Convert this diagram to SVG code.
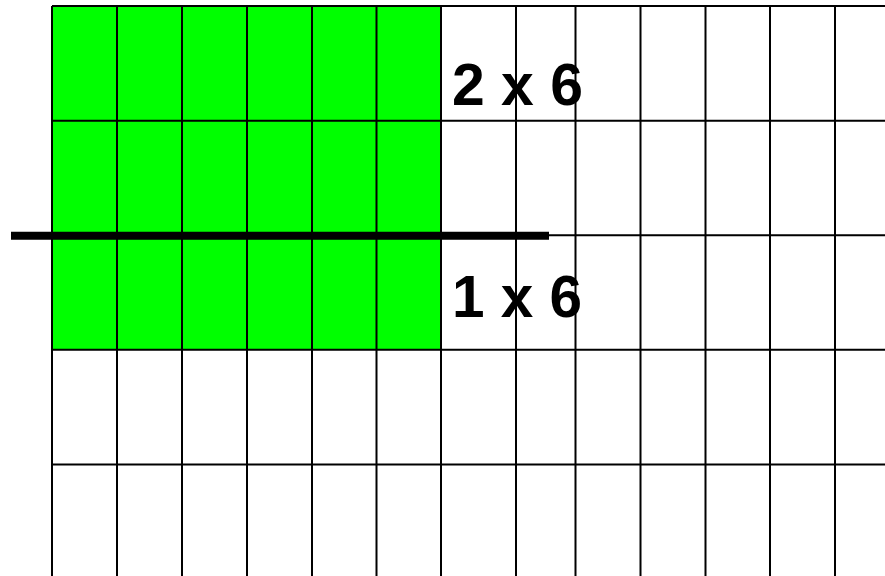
<svg xmlns="http://www.w3.org/2000/svg" width="885" height="576" viewBox="0 0 885 576">
<style>
.g{stroke:#000;stroke-width:2;fill:none}
.lbl{font-family:"Liberation Sans",Arial,sans-serif;font-weight:bold;font-size:60px;fill:#000}
</style>
<rect width="885" height="576" fill="#fff"/>
<g id="shaded">
<rect x="52" y="6" width="389" height="343.7" fill="#00ff00"/>
</g>
<g id="grid" class="g">
<path d="M52 6H885M52 120.7H885M52 235.2H885M52 349.7H885M52 464.5H885"/>
<path d="M52 6V576M117 6V576M182 6V576M247 6V576M312 6V576M376.5 6V576M441 6V576M516 6V576M575.5 6V576M640.5 6V576M705.5 6V576M770 6V576M835 6V576"/>
</g>
<g id="divider">
<line x1="11" y1="235.8" x2="549" y2="235.8" stroke="#000" stroke-width="8"/>
</g>
<g id="label-top">
<text class="lbl" x="452" y="105" textLength="131" lengthAdjust="spacingAndGlyphs">2 x 6</text>
</g>
<g id="label-bottom">
<text class="lbl" x="452" y="316.7" textLength="130" lengthAdjust="spacingAndGlyphs">1 x 6</text>
</g>
</svg>
